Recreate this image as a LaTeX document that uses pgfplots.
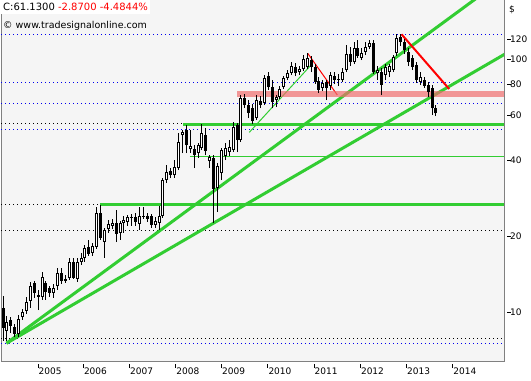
\documentclass[border=0pt]{standalone}
\usepackage{pgfplots}
\pgfplotsset{compat=1.18}
\usepackage{pgfplotstable}
\usepackage{fontspec}
\setmainfont{DejaVu Sans}
\definecolor{lgreen}{RGB}{50,205,50}
\definecolor{bandred}{RGB}{240,110,110}
\definecolor{plotbg}{RGB}{245,245,245}
\definecolor{framegray}{RGB}{128,128,128}
\definecolor{dotblue}{RGB}{0,0,240}

\pgfplotstableread{
i o h l c
0 10.37 11.57 7.68 8.64
1 8.41 9.64 7.68 9.13
2 9.30 9.55 8.26 8.80
3 8.72 8.96 7.96 8.18
4 8.18 9.73 7.96 9.38
5 9.55 10.27 9.30 10.00
6 10.09 11.47 9.82 10.96
7 11.06 13.15 10.37 12.67
8 13.03 13.27 11.37 11.90
9 11.47 12.22 10.18 11.68
10 11.47 14.40 11.16 13.76
11 13.03 13.27 11.16 12.00
12 12.45 12.67 11.47 11.90
13 11.90 12.91 11.37 12.45
14 12.67 14.94 12.22 14.27
15 14.27 14.94 12.91 13.27
16 13.27 14.01 13.03 13.51
17 13.64 16.37 13.39 15.78
18 15.78 16.37 13.51 13.64
19 13.51 16.37 13.15 15.78
20 15.78 17.13 15.35 16.37
21 16.37 18.42 15.78 17.92
22 18.09 19.28 16.67 16.97
23 17.13 18.76 16.67 18.25
24 18.09 26.05 17.76 24.67
25 24.67 26.53 19.28 19.64
26 18.93 21.51 16.37 21.12
27 21.31 23.14 20.55 22.31
28 21.91 23.35 21.31 22.52
29 22.52 25.35 18.93 20.37
30 20.55 22.93 19.28 22.52
31 22.52 24.00 20.55 23.14
32 22.72 24.22 21.91 23.78
33 23.57 24.44 21.91 23.78
34 23.78 24.67 21.91 22.72
35 22.31 26.05 21.12 24.00
36 23.78 26.05 23.35 24.00
37 24.00 24.67 22.72 23.35
38 24.00 24.44 21.51 22.11
39 22.11 23.78 21.51 22.93
40 22.52 26.29 21.12 24.00
41 24.00 33.93 23.57 33.32
42 33.32 38.20 32.42 35.84
43 36.17 37.17 33.93 34.87
44 34.87 39.98 33.93 37.51
45 37.17 51.15 36.50 47.11
46 50.22 52.56 42.62 51.61
47 52.56 55.01 42.62 45.84
48 44.20 52.56 42.62 45.43
49 44.20 45.84 37.17 41.85
50 42.62 46.75 40.72 45.84
51 44.61 55.52 43.80 51.15
52 50.22 53.53 41.85 43.40
53 39.62 41.85 37.17 41.08
54 40.72 41.85 22.52 30.70
55 30.98 38.91 24.89 37.85
56 35.51 44.61 33.32 43.80
57 41.47 46.75 39.98 44.61
58 43.01 47.98 41.47 45.02
59 43.80 56.54 43.01 54.02
60 55.01 56.02 43.01 47.98
61 47.98 72.34 47.11 70.40
62 70.40 73.00 64.26 66.04
63 66.04 69.12 58.64 61.38
64 64.26 66.65 55.52 57.06
65 58.64 72.34 57.58 69.12
66 68.49 71.68 64.26 66.04
67 67.26 86.82 66.04 84.48
68 86.03 89.22 75.72 77.82
69 77.82 82.95 64.26 67.87
70 69.12 72.34 64.85 71.03
71 71.03 78.53 69.75 76.41
72 77.82 86.03 76.41 84.48
73 84.48 90.87 82.95 88.42
74 88.42 97.74 86.82 94.24
75 93.38 96.85 86.03 88.42
76 89.22 94.24 86.82 91.70
77 91.70 104.2 90.04 100.5
78 93.38 106.1 91.70 101.4
79 99.54 103.3 89.22 93.38
80 93.38 95.97 79.98 81.45
81 82.20 85.24 73.67 75.72
82 77.11 82.95 75.03 80.72
83 81.45 82.95 69.12 77.11
84 78.53 89.22 75.72 86.82
85 86.03 89.22 79.98 82.95
86 82.95 87.61 78.53 83.71
87 82.95 92.54 81.45 89.22
88 90.87 114.1 89.22 105.1
89 105.1 112.0 94.24 97.74
90 97.74 117.3 95.97 111.0
91 111.0 119.5 101.4 103.3
92 101.4 111.0 99.54 106.1
93 107.1 117.3 104.2 112.0
94 112.0 119.5 110.0 116.2
95 116.2 119.5 87.61 89.22
96 88.42 94.24 82.95 90.87
97 89.22 92.54 72.34 79.25
98 86.82 95.97 82.95 93.38
99 89.22 95.97 85.24 94.24
100 90.87 104.2 89.22 102.3
101 106.1 126.2 103.3 121.8
102 122.9 126.2 113.1 117.3
103 117.3 120.6 105.1 109.0
104 107.1 111.0 94.24 97.74
105 101.4 104.2 90.87 93.38
106 95.10 97.74 80.72 82.95
107 81.45 89.22 79.25 85.24
108 82.95 85.24 77.11 78.53
109 79.25 81.45 71.03 74.34
110 77.11 79.25 60.27 64.26
111 64.26 66.04 59.72 61.13
}\candles

\begin{document}
\begin{tikzpicture}[x=1bp,y=1bp]
\path[use as bounding box] (0,0) rectangle (531,380);
\begin{axis}[
  at={(1bp,19bp)}, anchor=south west,
  width=503bp, height=361bp, scale only axis,
  xmin=-0.513, xmax=128.46,
  ymode=log, ymin=6.394, ymax=172.1,
  axis background/.style={fill=plotbg},
  axis line style={framegray, line width=1bp},
  xtick={8.97,20.59,32.44,44.28,56.03,67.90,79.74,91.62,103.46,115.31},
  xticklabels={2005,2006,2007,2008,2009,2010,2011,2012,2013,2014},
  ytick={10,20,40,60,80,100,120},
  yticklabels={10,20,40,60,80,100,120},
  xminorticks=false, yminorticks=false,
  xtick pos=bottom, ytick pos=right, yticklabel pos=right,
  tick align=outside,
  major tick length=4bp,
  tick style={black, line width=0.8bp},
  xtick style={yshift=-3bp},
  ytick style={xshift=2.5bp},
  xticklabel style={anchor=north west, inner sep=0pt, xshift=0.5bp, yshift=-3bp, font=\fontsize{9bp}{11bp}\selectfont},
  yticklabel style={anchor=west, inner sep=0pt, xshift=2bp, font=\fontsize{9bp}{11bp}\selectfont},
]
% dotted price levels
\addplot[dotblue, line width=1bp, dash pattern=on 1bp off 3bp] coordinates {(-0.513,125.8) (128.46,125.8)};
\addplot[dotblue, line width=1bp, dash pattern=on 1bp off 3bp] coordinates {(-0.513,81.45) (128.46,81.45)};
\addplot[dotblue, line width=1bp, dash pattern=on 1bp off 3bp] coordinates {(-0.513,67.26) (128.46,67.26)};
\addplot[dotblue, line width=1bp, dash pattern=on 1bp off 3bp] coordinates {(-0.513,53.04) (128.46,53.04)};
\addplot[dotblue, line width=1bp, dash pattern=on 1bp off 3bp] coordinates {(-0.513,7.47) (128.46,7.47)};
\addplot[black, line width=1bp, dash pattern=on 1bp off 3bp] coordinates {(-0.513,56.02) (128.46,56.02)};
\addplot[black, line width=1bp, dash pattern=on 1bp off 3bp] coordinates {(-0.513,26.53) (128.46,26.53)};
\addplot[black, line width=1bp, dash pattern=on 1bp off 3bp] coordinates {(-0.513,21.0) (128.46,21.0)};
\addplot[black, line width=1bp, dash pattern=on 1bp off 3bp] coordinates {(-0.513,7.82) (128.46,7.82)};
% horizontal support lines
\addplot[lgreen, line width=3bp] coordinates {(24.9,26.53) (128.46,26.53)};
\addplot[lgreen, line width=3bp] coordinates {(46.2,55.5) (128.46,55.5)};
\addplot[lgreen, line width=1bp] coordinates {(47.9,41.47) (128.46,41.47)};
% trend lines
\addplot[lgreen, line width=3bp] coordinates {(0.9,7.52) (122.3,179.1)};
\addplot[lgreen, line width=3bp] coordinates {(0.9,7.52) (128.7,105.1)};
\addplot[lgreen, line width=1bp] coordinates {(63.15,51.47) (79.23,95.97)};
\addplot[red, line width=1bp] coordinates {(78.13,105.8) (85.72,72.34)};
\addplot[red, line width=2bp] coordinates {(102.2,125.8) (114.4,76.41)};
% resistance band
\addplot[bandred, line width=6bp, draw opacity=0.7] coordinates {(60,73.0) (128.46,73.0)};
% candles: wicks
\addplot[draw=none, mark=none, error bars/.cd, y dir=plus, y explicit, error mark=none,
  error bar style={draw=black, solid, line width=1bp}]
  table[x=i, y=l, y error expr={\thisrow{h}-\thisrow{l}}] {\candles};
% bodies (black)
\addplot[draw=none, mark=none, error bars/.cd, y dir=plus, y explicit, error mark=none,
  error bar style={draw=black, solid, line width=3bp}]
  table[x=i, y expr={min(\thisrow{o},\thisrow{c})}, y error expr={abs(\thisrow{c}-\thisrow{o})}] {\candles};
% white insides of rising candles
\addplot[draw=none, mark=none, restrict expr to domain={\thisrow{c}/\thisrow{o}}{1.02:100},
  error bars/.cd, y dir=plus, y explicit, error mark=none,
  error bar style={draw=white, solid, line width=1bp}]
  table[x=i, y expr={\thisrow{o}*1.0092}, y error expr={\thisrow{c}/1.0092-\thisrow{o}*1.0092}] {\candles};
\end{axis}
\fill[white] (0,366) rectangle (150,380);
\node[anchor=base west, inner sep=0pt, font=\fontsize{10bp}{12bp}\selectfont] at (3,369.3) {C:61.1300 \textcolor{red}{-2.8700 -4.4844\%}};
\node[anchor=base west, inner sep=0pt, font=\fontsize{9.5bp}{11bp}\selectfont] at (3,351.5) {© www.tradesignalonline.com};
\node[anchor=base west, inner sep=0pt, font=\fontsize{9bp}{11bp}\selectfont] at (509,368) {\$};
\end{tikzpicture}
\end{document}
